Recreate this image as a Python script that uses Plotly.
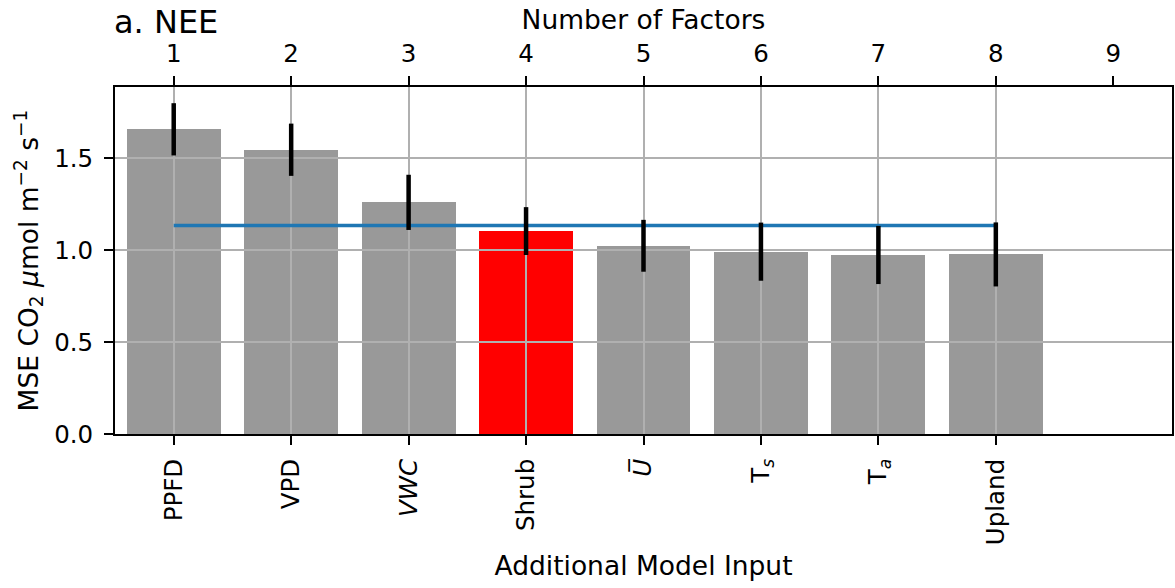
import plotly.graph_objects as go

# ---- data ----
factors = [1, 2, 3, 4, 5, 6, 7, 8]
inputs = ["PPFD", "VPD", "<i>VWC</i>", "Shrub", "<i>U\u0305</i>",
          "T<sub><i>s</i></sub>", "T<sub><i>a</i></sub>", "Upland"]
mse = [1.656, 1.545, 1.259, 1.103, 1.023, 0.991, 0.973, 0.976]
mse_err = [0.142, 0.142, 0.150, 0.130, 0.141, 0.158, 0.158, 0.174]
selected = "Shrub"
baseline_mse = 1.133
top_ticks = [1, 2, 3, 4, 5, 6, 7, 8, 9]
y_ticks = [0.0, 0.5, 1.0, 1.5]

FONT = "DejaVu Sans"
XR = [0.5, 9.5]
YR = [0, 1.886]
TICKF = 24.5
TITLEF = 26.5

colors = ["#ff0000" if lab == selected else "#999999" for lab in inputs]

fig = go.Figure()
# bars on base subplot
fig.add_trace(go.Bar(x=factors, y=mse, width=0.8, marker=dict(color=colors, line=dict(width=0)),
                     xaxis="x", yaxis="y", showlegend=False, hoverinfo="skip"))
# invisible trace to activate top axis
fig.add_trace(go.Scatter(x=top_ticks, y=[0]*len(top_ticks), mode="markers",
                         marker=dict(opacity=0, size=1), xaxis="x3", yaxis="y",
                         showlegend=False, hoverinfo="skip"))
# upper subplot: grid + baseline + error bars
fig.add_trace(go.Scatter(x=[factors[0], factors[-1]], y=[baseline_mse, baseline_mse], mode="lines",
                         line=dict(color="#1f77b4", width=3.5), xaxis="x2", yaxis="y2",
                         showlegend=False, hoverinfo="skip"))
fig.add_trace(go.Scatter(x=factors, y=mse, mode="markers", marker=dict(opacity=0, size=1),
                         error_y=dict(type="data", array=mse_err, color="black", thickness=4.5, width=0),
                         xaxis="x2", yaxis="y2", showlegend=False, hoverinfo="skip"))

axline = dict(showline=True, linecolor="black", linewidth=2)
fig.update_layout(
    width=1175, height=588,
    margin=dict(l=115, r=1, t=87, b=154),
    paper_bgcolor="white", plot_bgcolor="rgba(0,0,0,0)",
    font=dict(family=FONT, size=TICKF, color="black"),
    xaxis=dict(domain=[0, 1], range=XR, tickvals=factors, ticktext=inputs, tickangle=-90,
               ticks="outside", ticklen=9, tickwidth=2, tickcolor="black", showgrid=False,
               zeroline=False, anchor="y", ticklabelstandoff=4,
               title=dict(text="Additional Model Input", standoff=12, font=dict(size=TITLEF)),
               **axline),
    yaxis=dict(domain=[0, 1], range=YR, tickvals=y_ticks, tickformat=".1f", ticks="outside",
               ticklen=9, tickwidth=2, tickcolor="black", showgrid=False, zeroline=False,
               mirror=True, anchor="x", ticklabelstandoff=6,
               title=dict(text="MSE CO<sub>2</sub> <i>\u03bc</i>mol m<sup>\u22122</sup> s<sup>\u22121</sup>",
                          standoff=8, font=dict(size=TITLEF)),
               **axline),
    xaxis3=dict(overlaying="x", side="top", anchor="y", range=XR, tickvals=top_ticks,
                ticks="outside", ticklen=9, tickwidth=2, tickcolor="black", showgrid=False,
                zeroline=False, ticklabelstandoff=4,
                title=dict(text="Number of Factors", standoff=2, font=dict(size=TITLEF)),
                **axline),
    xaxis2=dict(domain=[0, 1], range=XR, tickvals=factors, showticklabels=False, ticks="",
                showgrid=True, gridcolor="#b0b0b0", gridwidth=2, zeroline=False, anchor="y2",
                showline=False),
    yaxis2=dict(domain=[0, 1], range=YR, tickvals=y_ticks, showticklabels=False, ticks="",
                showgrid=True, gridcolor="#b0b0b0", gridwidth=2, zeroline=False, anchor="x2",
                showline=False),
    annotations=[dict(text="a. NEE", xref="paper", yref="paper", x=0, y=1, xanchor="left",
                      yanchor="bottom", yshift=44, showarrow=False, font=dict(size=32),
                      xshift=-3)],
    bargap=0,
)

fig.write_html("out.html")
